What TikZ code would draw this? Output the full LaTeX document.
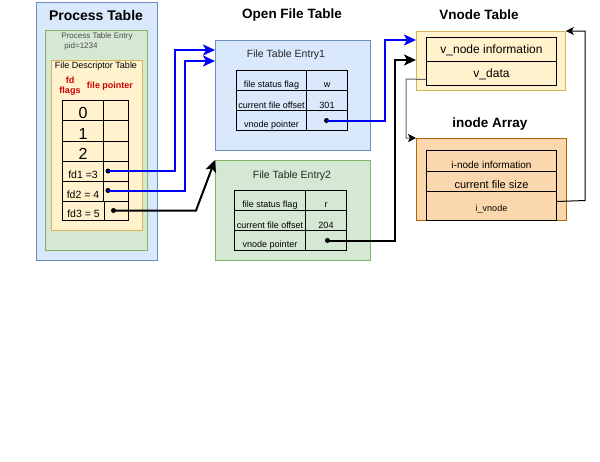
\documentclass[tikz,border=0pt]{standalone}
\usepackage{fontspec}
\setmainfont{Liberation Sans}
\usetikzlibrary{arrows.meta}
\definecolor{bluefill}{HTML}{DAE8FC}
\definecolor{bluedraw}{HTML}{6C8EBF}
\definecolor{greenfill}{HTML}{D5E8D4}
\definecolor{greendraw}{HTML}{82B366}
\definecolor{yellowfill}{HTML}{FFF2CC}
\definecolor{yellowdraw}{HTML}{D6B656}
\definecolor{orangefill}{HTML}{FAD7AC}
\definecolor{orangedraw}{HTML}{B46504}
\definecolor{redtext}{HTML}{CC0000}
\definecolor{ptrblue}{HTML}{0000FF}
\newcommand\myfs[1]{\fontsize{#1}{#1}\selectfont}
% name, x, y, w, h, dy, font size, text
\newcommand\mycell[8]{%
  \node[cell, minimum width=#4pt, minimum height=#5pt] (#1) at (#2,#3) {};
  \node[font=\myfs{#7}, inner sep=0pt] (#1t) at ([yshift=-#6pt]#1.center) {#8};}
\begin{document}
\begin{tikzpicture}[x=1pt,y=-1pt,
  box/.style={draw, line width=0.8pt, anchor=north west, inner sep=0pt},
  cell/.style={draw=black, line width=1pt, anchor=north west, inner sep=0pt},
  title/.style={font=\bfseries\myfs{13.5}},
  dotn/.style={circle, fill=black, inner sep=0pt, minimum size=5pt},
  bluearrow/.style={draw=ptrblue, line width=2pt, -{Stealth[length=12pt,width=11pt,inset=3pt]}},
  blackarrow/.style={draw=black, line width=2pt, -{Stealth[length=12pt,width=11pt,inset=3pt]}},
  thinarrow/.style={line width=1pt, -{Stealth[length=8pt,width=8pt,inset=2pt,color=black]}}
]
\path[use as bounding box, fill=white] (0,0) rectangle (600,461);

% ---------- Process Table ----------
\node[box, draw=bluedraw, fill=bluefill, minimum width=121pt, minimum height=258pt] (pt) at (36,2) {};
\node[title, font=\bfseries\myfs{14}] (ptt) at (96,15) {Process Table};
\node[box, draw=greendraw, fill=greenfill, minimum width=102pt, minimum height=220pt] (pte) at (45,30) {};
\node[font=\myfs{8}, text=black!70] (ptet) at (97,36) {Process Table Entry};
\node[font=\myfs{8}, text=black!70] (pid) at (81,46) {pid=1234};
\node[box, draw=yellowdraw, fill=yellowfill, minimum width=91pt, minimum height=170pt] (fdt) at (51,60) {};
\node[font=\myfs{9}] (fdtt) at (96,66) {File Descriptor Table};
\node[font=\bfseries\myfs{9}, text=redtext, align=center, inner sep=0pt] (fdf) at (70,86) {fd\\[1.5pt]flags};
\node[font=\bfseries\myfs{9}, text=redtext] (fpt) at (110,86) {file pointer};

\mycell{a0}{62}{100}{41}{20}{2.5}{16}{0}
\mycell{b0}{103}{100}{25}{20}{0}{9}{}
\mycell{a1}{62}{120}{41}{21}{2.5}{16}{1}
\mycell{b1}{103}{120}{25}{21}{0}{9}{}
\mycell{a2}{62}{141}{41}{20}{2.5}{16}{2}
\mycell{b2}{103}{141}{25}{20}{0}{9}{}
\mycell{a3}{62}{161}{41}{20}{3}{10.5}{fd1 =3}
\mycell{b3}{103}{161}{25}{20}{0}{9}{}
\mycell{a4}{62}{181}{41}{20}{3}{10.5}{fd2 = 4}
\mycell{b4}{103}{181}{25}{20}{0}{9}{}
\mycell{a5}{62}{201}{42}{19}{3}{10.5}{fd3 = 5}
\mycell{b5}{104}{201}{24}{19}{0}{9}{}
\node[dotn] (d1) at (108,171) {};
\node[dotn] (d2) at (108,190.5) {};
\node[dotn] (d3) at (113.5,210.5) {};

% ---------- Open File Table ----------
\node[title] (oft) at (292,15) {Open File Table};
\node[box, draw=bluedraw, fill=bluefill, minimum width=155pt, minimum height=110pt] (fte1) at (215,40) {};
\node[font=\myfs{10.5}, text=black!85] (fte1t) at (286,55) {File Table Entry1};
\mycell{e1a}{236}{70}{70}{20}{5}{9}{file status flag}
\mycell{e1b}{306}{70}{41}{20}{5}{9}{w}
\mycell{e2a}{236}{90}{70}{20}{5}{9}{current file offset}
\mycell{e2b}{306}{90}{41}{20}{5}{9}{301}
\mycell{e3a}{236}{110}{70}{20}{5}{9}{vnode pointer}
\mycell{e3b}{306}{110}{41}{20}{0}{9}{}
\node[dotn] (d4) at (326.5,120.5) {};

\node[box, draw=greendraw, fill=greenfill, minimum width=155pt, minimum height=100pt] (fte2) at (215,160) {};
\node[font=\myfs{10.5}, text=black!85] (fte2t) at (292,176) {File Table Entry2};
\mycell{f1a}{234}{190}{71}{20}{5}{9}{file status flag}
\mycell{f1b}{305}{190}{41}{20}{5}{9}{r}
\mycell{f2a}{234}{210}{71}{20}{5}{9}{current file offset}
\mycell{f2b}{305}{210}{41}{20}{5}{9}{204}
\mycell{f3a}{234}{230}{71}{20}{5}{9}{vnode pointer}
\mycell{f3b}{305}{230}{41}{20}{0}{9}{}
\node[dotn] (d5) at (327.5,240.5) {};

% ---------- Vnode Table ----------
\node[title] (vtt) at (479,15) {Vnode Table};
\node[box, draw=yellowdraw, fill=yellowfill, minimum width=149pt, minimum height=59pt] (vt) at (416,31) {};
\mycell{vi}{426}{37}{130}{24}{1}{12}{v\_node information}
\mycell{vd}{426}{61}{130}{24}{0.5}{12}{v\_data}

% ---------- inode Array ----------
\node[title] (iat) at (490,124) {inode Array};
\node[box, draw=orangedraw, fill=orangefill, minimum width=150pt, minimum height=82pt] (ia) at (416,138) {};
\mycell{ii}{426}{150}{130}{21}{4}{10}{i-node information}
\mycell{ic}{426}{171}{130}{20}{3}{11}{current file size}
\mycell{iv}{426}{191}{130}{29}{3}{9}{i\_vnode}

% ---------- connectors ----------
\draw[bluearrow] (d1.center) -- (175,171) -- (175,50) -- (fte1.west |- 0,50);
\draw[bluearrow] (d2.center) -- (185,190.5) -- (185,61) -- (fte1.west |- 0,61);
\draw[blackarrow] (d3.center) -- (196,210.5) -- (fte2.north west);
\draw[bluearrow] (d4.center) -- (385,120.5) -- (385,40) -- (vt.west |- 0,40);
\draw[blackarrow] (d5.center) -- (395,240.5) -- (395,60) -- (vt.west |- 0,60);
\draw[thinarrow, draw=black!60] ([yshift=-6pt]vd.west) -- (406,79) |- (ia.north west);
\draw[thinarrow] ([yshift=4.5pt]iv.east) -- (585,200.5) |- (vt.north east);
\end{tikzpicture}
\end{document}
